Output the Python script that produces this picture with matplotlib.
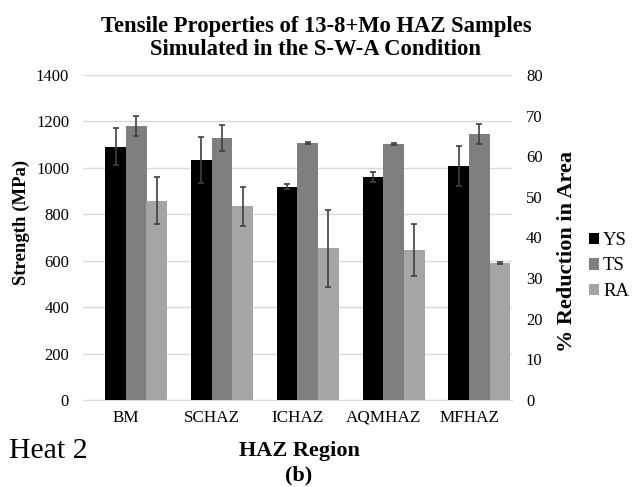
import numpy as np
import matplotlib.pyplot as plt

regions = ["BM", "SCHAZ", "ICHAZ", "AQMHAZ", "MFHAZ"]
ys = [1092, 1034, 919, 960, 1008]
ys_err = [80, 98, 10, 23, 88]
ts = [1180, 1128, 1106, 1103, 1144]
ts_err = [43, 57, 5, 3, 43]
ra = [49.1, 47.7, 37.3, 36.9, 33.7]
ra_err = [5.8, 4.8, 9.5, 6.5, 0.3]

plt.rcParams['font.family'] = ['Liberation Serif', 'DejaVu Serif']

W, H = 633, 487
fig = plt.figure(figsize=(W / 100, H / 100), dpi=100)
ax = fig.add_axes([83 / W, 1 - 400 / H, 429 / W, 325 / H])
ax2 = ax.twinx()

x = np.arange(len(regions))
w = 0.242
ekw = dict(ecolor='#404040', elinewidth=1.2, capsize=2.5, capthick=1.2)
ax.bar(x - 0.12, ys, w, yerr=ys_err, color='black', label='YS', error_kw=ekw, zorder=3)
ax.bar(x + 0.12, ts, w, yerr=ts_err, color='#7f7f7f', label='TS', error_kw=ekw, zorder=3)
ax2.bar(x + 0.36, ra, w, yerr=ra_err, color='#a5a5a5', label='RA', error_kw=ekw, zorder=3)

ax.set_xlim(-0.5, len(regions) - 0.5)
ax.set_ylim(0, 1400)
ax.set_yticks(range(0, 1401, 200))
ax2.set_ylim(0, 80)
ax2.set_yticks(range(0, 81, 10))
ax.set_xticks(x)
ax.set_xticklabels(regions)
ax.grid(axis='y', color='#d9d9d9', linewidth=1, zorder=0)
ax.set_axisbelow(True)
for a in (ax, ax2):
    for s in a.spines.values():
        s.set_visible(False)
    a.tick_params(length=0, labelsize=12, pad=10)
ax.tick_params(axis='x', labelsize=12.3, pad=7)
ax.spines['bottom'].set_visible(True)
ax.spines['bottom'].set_color('#d9d9d9')

fig.text(21 / W, 1 - 222 / H, 'Strength (MPa)', rotation=90, ha='center', va='center',
         fontsize=13.5, fontweight='bold')
fig.text(567 / W, 1 - 252 / H, '% Reduction in Area', rotation=90, ha='center', va='center',
         fontsize=16, fontweight='bold')
fig.text(299 / W, 1 - 451 / H, 'HAZ Region', ha='center', va='center',
         fontsize=16, fontweight='bold')
fig.text(299 / W, 1 - 475 / H, '(b)', ha='center', va='center',
         fontsize=16, fontweight='bold')
fig.text(316 / W, 1 - 38 / H, 'Tensile Properties of 13-8+Mo HAZ Samples\nSimulated in the S-W-A Condition',
         ha='center', va='center', fontsize=16.3, fontweight='bold', linespacing=1.15)
fig.text(9 / W, 1 - 451 / H, 'Heat 2', fontsize=21.5, ha='left', va='center')

h1, l1 = ax.get_legend_handles_labels()
h2, l2 = ax2.get_legend_handles_labels()
fig.legend(h1 + h2, l1 + l2, loc='center left', bbox_to_anchor=(589 / W, 1 - 266 / H),
           frameon=False, fontsize=13.5, handlelength=0.55, handleheight=0.55,
           handletextpad=0.2, labelspacing=0.45, borderaxespad=0, borderpad=0)

fig.savefig('out.png', dpi=100)
